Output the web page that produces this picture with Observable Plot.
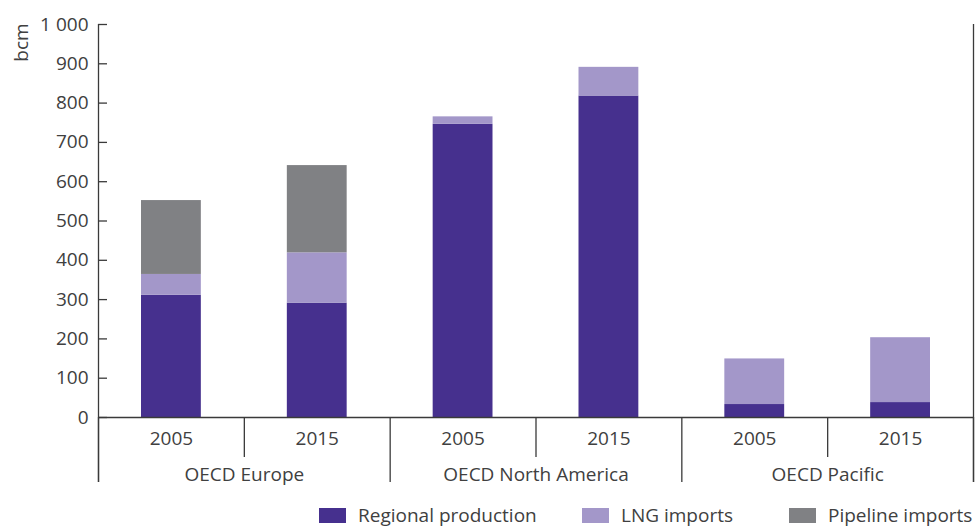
<!DOCTYPE html>
<html><head><meta charset="utf-8">
<script src="https://cdn.jsdelivr.net/npm/d3@7"></script>
<script src="https://cdn.jsdelivr.net/npm/@observablehq/plot@0.6"></script>
<style>
body{margin:0;background:#fff;overflow:hidden;font-family:"Open Sans",sans-serif;}
#legend{display:flex;align-items:center;height:30px;padding-top:3px;padding-left:319px;color:#404040;font-size:19px;}
.item{display:flex;align-items:center;white-space:nowrap}
.sw{width:27px;height:15px;margin-right:12px}
</style></head><body><div id="chart"></div><div id="legend"></div>
<script>
const regions = ["OECD Europe", "OECD North America", "OECD Pacific"];
const years = ["2005", "2015"];
const series = ["Regional production", "LNG imports", "Pipeline imports"];
const colors = ["#46308e", "#a397c9", "#808184"];
const production = [311, 291, 746, 818, 33, 38];
const lng = [53, 128, 19, 73, 116, 165];
const pipeline = [188, 222, 0, 0, 0, 0];
const yTicks = d3.range(0, 1001, 100);

const values = [production, lng, pipeline];
const n = regions.length * years.length;
const rows = [];
regions.forEach((r, ri) => years.forEach((y, yi) => {
  const i = ri * years.length + yi;
  series.forEach((s, si) => rows.push({i, region: r, year: y, series: s, value: values[si][i]}));
}));

const ink = "#3a3a3a";
const txt = "#404040";
const fmt = d3.formatLocale({thousands: " ", grouping: [3], decimal: ".", currency: ["", ""]}).format(",");

const plot = Plot.plot({
  width: 975, height: 497,
  marginLeft: 98, marginRight: 2, marginTop: 24, marginBottom: 80,
  style: {fontFamily: "Open Sans", fontSize: "19px", color: txt, background: "#fff"},
  x: {domain: [0, n], axis: null, label: null},
  y: {domain: [0, 1000], axis: null, label: null},
  color: {domain: series, range: colors},
  marks: [
    Plot.rectY(rows, {x: "i", interval: 1, y: "value", fill: "series", insetLeft: 43, insetRight: 43}),
    Plot.ruleY([0], {stroke: ink, strokeWidth: 1.3}),
    Plot.ruleX([0, n], {stroke: ink, strokeWidth: 1.3, insetBottom: -65}),
    Plot.axisX(d3.range(0, n + 1, years.length), {tickSize: 65, tickFormat: () => "", stroke: ink, strokeWidth: 1.3}),
    Plot.axisX(d3.range(1, n, years.length), {tickSize: 40, tickFormat: () => "", stroke: ink, strokeWidth: 1.3}),
    Plot.axisX(d3.range(n).map(i => i + 0.5), {tickSize: 0, tickPadding: 14, tickFormat: d => years[Math.floor(d) % years.length], fill: txt}),
    Plot.axisX(regions.map((_, ri) => ri * years.length + years.length / 2), {tickSize: 0, tickPadding: 50, tickFormat: d => regions[Math.floor(d / years.length)], fill: txt}),
    Plot.axisY(yTicks, {tickSize: 0, tickPadding: 10, tickFormat: fmt, fill: txt}),
    Plot.axisY(yTicks, {tickSize: -9, tickFormat: () => "", stroke: ink, strokeWidth: 1.3}),
    Plot.text(["bcm"], {frameAnchor: "top-left", text: d => d, rotate: -90, dx: -77, dy: 18, fill: txt, lineAnchor: "middle", textAnchor: "middle"})
  ]
});
document.getElementById("chart").appendChild(plot);

const itemWidths = ["263px", "207px", "auto"];
const legend = document.getElementById("legend");
series.forEach((s, si) => {
  const item = document.createElement("div");
  item.className = "item";
  item.style.width = itemWidths[si];
  const sw = document.createElement("span");
  sw.className = "sw";
  sw.style.background = colors[si];
  const label = document.createElement("span");
  label.textContent = s;
  item.appendChild(sw); item.appendChild(label);
  legend.appendChild(item);
});
</script></body></html>
